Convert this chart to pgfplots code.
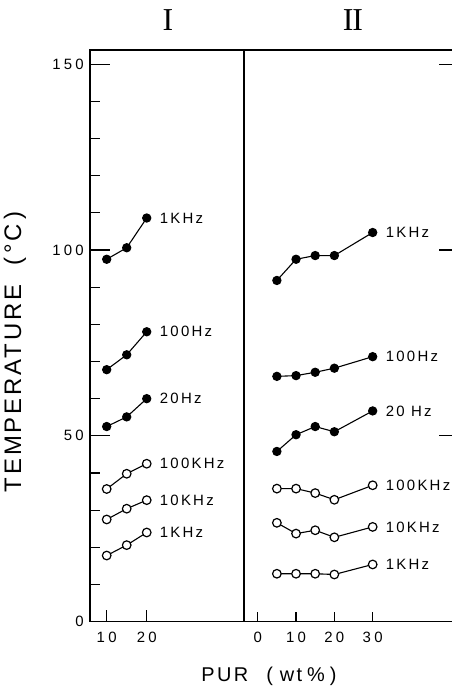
\documentclass[border=0pt]{standalone}
\usepackage{pgfplots}
\pgfplotsset{compat=1.18}
\usepackage{fontspec}
\setmainfont{Liberation Sans}
\newfontfamily\tickf[LetterSpace=22]{Liberation Sans}
\newfontfamily\serf[LetterSpace=15]{Liberation Sans}
\newfontfamily\labf[LetterSpace=12]{Liberation Sans}
\newfontfamily\romf{Liberation Serif}

\tikzset{serlab/.style={anchor=west, inner sep=0pt, xshift=13bp, font=\serf\fontsize{15}{15}\selectfont}}
\pgfplotsset{
  filled/.style={black, line width=1.1bp, mark=*, mark size=4.1bp, mark options={fill=black, solid}},
  open/.style={black, line width=1.1bp, mark=*, mark size=4.3bp, mark options={fill=white, line width=1.2bp, solid}},
  base/.style={
    scale only axis, ymin=0, ymax=153.8,
    axis line style={line width=1.2bp},
    every tick/.style={black, line width=1.1bp},
    tick align=inside,
    /pgf/number format/assume math mode=true,
    tick label style={font=\tickf\fontsize{15}{15}\selectfont, inner sep=0pt},
    xtick=\empty,
    x tick label style={anchor=north, yshift=-10bp},
    y tick label style={anchor=east, xshift=-6bp},
    clip=false,
  },
}

\begin{document}
\begin{tikzpicture}
\path[use as bounding box] (0bp,0bp) rectangle (452bp,691bp);

% ---------------- Panel I ----------------
\begin{axis}[base,
  at={(90bp,69.3bp)}, anchor=south west,
  width=154bp, height=571.7bp,
  xmin=5.83, xmax=44.3,
  ytick={0,50,100,150}, yticklabels={0,50,100,150},
  ytick pos=left,
  major tick length=20bp,
  minor ytick={10,20,30,40,60,70,80,90,110,120,130,140},
  minor tick length=10bp,
  extra x ticks={10,20}, extra x tick labels={10,20},
  extra x tick style={major tick length=12bp, xtick pos=left},
]
\addplot[filled] coordinates {(10,97.5) (15,100.6) (20,108.6)};
\addplot[filled] coordinates {(10,67.8) (15,71.8) (20,78.0)};
\addplot[filled] coordinates {(10,52.5) (15,55.1) (20,60.0)};
\addplot[open] coordinates {(10,35.7) (15,39.8) (20,42.5)};
\addplot[open] coordinates {(10,27.5) (15,30.4) (20,32.7)};
\addplot[open] coordinates {(10,17.8) (15,20.6) (20,24.0)};
\node[serlab] at (axis cs:20,108.6) {1KHz};
\node[serlab] at (axis cs:20,78.0) {100Hz};
\node[serlab] at (axis cs:20,60.0) {20Hz};
\node[serlab] at (axis cs:20,42.5) {100KHz};
\node[serlab] at (axis cs:20,32.7) {10KHz};
\node[serlab] at (axis cs:20,24.0) {1KHz};
\end{axis}

% ---------------- Panel II ----------------
\begin{axis}[base,
  at={(244bp,69.3bp)}, anchor=south west,
  width=208bp, height=571.7bp,
  xmin=-3.58, xmax=50.7,
  axis x line*=box, axis y line*=right,
  y axis line style={draw=none},
  ytick={50,100,150}, yticklabels={},
  ytick pos=right,
  major tick length=13bp,
  extra x ticks={0,10,20,30}, extra x tick labels={0,10,20,30},
  extra x tick style={major tick length=10bp, xtick pos=left},
]
\addplot[filled] coordinates {(5,91.8) (10,97.5) (15,98.5) (20,98.5) (30,104.7)};
\addplot[filled] coordinates {(5,66.0) (10,66.2) (15,67.1) (20,68.2) (30,71.3)};
\addplot[filled] coordinates {(5,45.8) (10,50.3) (15,52.5) (20,51.1) (30,56.7)};
\addplot[open] coordinates {(5,35.8) (10,35.8) (15,34.6) (20,32.8) (30,36.7)};
\addplot[open] coordinates {(5,26.6) (10,23.7) (15,24.6) (20,22.7) (30,25.5)};
\addplot[open] coordinates {(5,12.9) (10,12.9) (15,12.9) (20,12.7) (30,15.4)};
\node[serlab] at (axis cs:30,104.7) {1KHz};
\node[serlab] at (axis cs:30,71.3) {100Hz};
\node[serlab] at (axis cs:30,56.7) {20 Hz};
\node[serlab] at (axis cs:30,36.7) {100KHz};
\node[serlab] at (axis cs:30,25.5) {10KHz};
\node[serlab] at (axis cs:30,15.4) {1KHz};
\end{axis}

% titles and axis labels
\node[font=\romf\fontsize{32}{32}\selectfont, inner sep=0pt] at (168bp,671bp) {I};
\node[font=\romf\fontsize{32}{32}\selectfont, inner sep=0pt] at (353bp,671bp) {I\kern-1.2bp I};
\node[rotate=90, font=\labf\fontsize{24}{24}\selectfont, inner sep=0pt] at (15bp,339bp) {TEMPERATURE\ \ (\,°C\,)};
\node[font=\labf\fontsize{20}{20}\selectfont, inner sep=0pt] at (269bp,15bp) {PUR\hspace{18bp}(\hspace{7bp}wt\hspace{5bp}\%\hspace{5bp})};
\end{tikzpicture}
\end{document}
